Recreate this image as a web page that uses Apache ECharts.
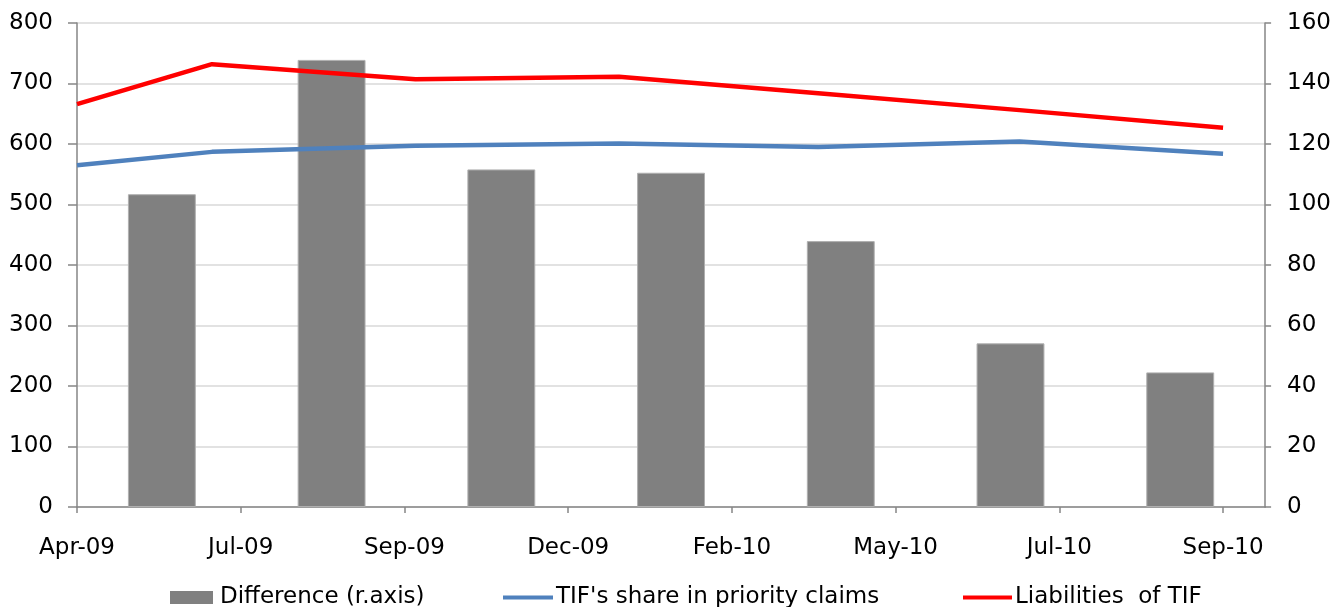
<!DOCTYPE html>
<html>
<head>
<meta charset="utf-8">
<script src="https://cdn.jsdelivr.net/npm/echarts@6/dist/echarts.min.js"></script>
<style>
  html, body { margin: 0; padding: 0; background: #fff; }
  #chart { width: 1334px; height: 607px; }
</style>
</head>
<body>
<div id="chart"></div>
<script>
// ---- data ----
var lineDates = ['2009-04-30', '2009-06-30', '2009-09-30', '2009-12-31', '2010-03-31', '2010-06-30', '2010-09-30'];
var tifShare = [565, 587, 597, 601, 595, 604, 584];
var liabilities = [666, 732, 707, 711, 684, 656, 627];
var barCategories = ['Q2-09', 'Q3-09', 'Q4-09', 'Q1-10', 'Q2-10', 'Q3-10', 'Q4-10'];
var difference = [103.4, 147.8, 111.6, 110.5, 87.9, 54.1, 44.5];
var tickDates = ['2009-04-30', '2009-07-13', '2009-09-25', '2009-12-08', '2010-02-20', '2010-05-05', '2010-07-18', '2010-09-30'];
var axisStart = '2009-04-30';
var axisEnd = '2010-10-19';
var months = ['Jan','Feb','Mar','Apr','May','Jun','Jul','Aug','Sep','Oct','Nov','Dec'];

function ts(s) { var p = s.split('-'); return Date.UTC(+p[0], +p[1] - 1, +p[2]); }
function fmt(v) {
  var d = new Date(v);
  return months[d.getUTCMonth()] + '-' + String(d.getUTCFullYear() % 100).padStart(2, '0');
}

var FONT = 'DejaVu Sans';
var FS = 23;
var axisColor = '#868686';
function legText(pad) { return { fontFamily: FONT, fontSize: FS, color: '#000', padding: [0, 0, 0, pad] }; }

var chart = echarts.init(document.getElementById('chart'), null, { renderer: 'canvas' });
chart.setOption({
  animation: false,
  textStyle: { fontFamily: FONT },
  grid: { left: 77, right: 68, top: 23, bottom: 100, containLabel: false },
  legend: [
    { data: [{ name: 'Difference (r.axis)', icon: 'rect' }], left: 170, top: 586, padding: 0, itemWidth: 43, itemHeight: 13,
      itemStyle: { borderWidth: 0 }, textStyle: legText(2) },
    { data: [{ name: "TIF's share in priority claims", icon: 'rect' }], left: 503, top: 586, padding: 0, itemWidth: 50, itemHeight: 4,
      textStyle: legText(-2) },
    { data: [{ name: 'Liabilities  of TIF', icon: 'rect' }], left: 963, top: 586, padding: 0, itemWidth: 49, itemHeight: 4,
      textStyle: legText(-2) }
  ],
  xAxis: [
    {
      type: 'value',
      min: ts(axisStart),
      max: ts(axisEnd),
      axisLine: { show: true, lineStyle: { color: axisColor, width: 1.5 } },
      axisTick: { show: true, length: 6, customValues: tickDates.map(ts), lineStyle: { color: axisColor, width: 1.5 } },
      axisLabel: { customValues: tickDates.map(ts), formatter: fmt, fontFamily: FONT, fontSize: FS, color: '#000', margin: 30 },
      splitLine: { show: false }
    },
    {
      type: 'category',
      data: barCategories,
      boundaryGap: true,
      show: false
    }
  ],
  yAxis: [
    {
      type: 'value', min: 0, max: 800, interval: 100, position: 'left',
      axisLine: { show: true, lineStyle: { color: axisColor, width: 1.5 } },
      axisTick: { show: true, length: 9, lineStyle: { color: axisColor, width: 1.5 } },
      axisLabel: { fontFamily: FONT, fontSize: FS, color: '#000', margin: 24 },
      splitLine: { show: true, lineStyle: { color: '#d9d9d9', width: 1.5 } }
    },
    {
      type: 'value', min: 0, max: 160, interval: 20, position: 'right',
      axisLine: { show: true, lineStyle: { color: axisColor, width: 1.5 } },
      axisTick: { show: true, length: 6, lineStyle: { color: axisColor, width: 1.5 } },
      axisLabel: { fontFamily: FONT, fontSize: FS, color: '#000', margin: 22 },
      splitLine: { show: false }
    }
  ],
  series: [
    {
      name: 'Difference (r.axis)', type: 'bar', xAxisIndex: 1, yAxisIndex: 1,
      data: difference, barWidth: '40%',
      itemStyle: { color: '#808080', borderColor: '#b0b0b0', borderWidth: 1 },
      z: 1
    },
    {
      name: "TIF's share in priority claims", type: 'line', xAxisIndex: 0, yAxisIndex: 0,
      data: lineDates.map(function (d, i) { return [ts(d), tifShare[i]]; }),
      showSymbol: false, symbol: 'none',
      lineStyle: { color: '#4f81bd', width: 4.5 }, itemStyle: { color: '#4f81bd' },
      z: 3
    },
    {
      name: 'Liabilities  of TIF', type: 'line', xAxisIndex: 0, yAxisIndex: 0,
      data: lineDates.map(function (d, i) { return [ts(d), liabilities[i]]; }),
      showSymbol: false, symbol: 'none',
      lineStyle: { color: '#ff0000', width: 4.5 }, itemStyle: { color: '#ff0000' },
      z: 4
    }
  ]
});
</script>
</body>
</html>
